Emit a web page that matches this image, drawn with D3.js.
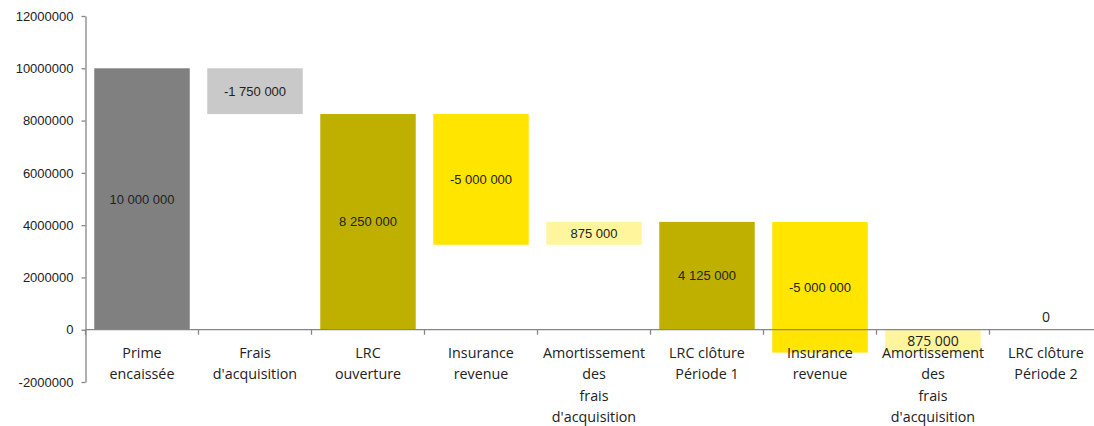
<!DOCTYPE html>
<html>
<head>
<meta charset="utf-8">
<script src="https://cdn.jsdelivr.net/npm/d3@7"></script>
<style>
  html, body { margin: 0; padding: 0; background: #fff; }
  svg { display: block; }
</style>
</head>
<body>
<svg id="chart" width="1094" height="426"></svg>
<script>
// ---- data ----
const categories = [
  ["Prime", "encaissée"],
  ["Frais", "d'acquisition"],
  ["LRC", "ouverture"],
  ["Insurance", "revenue"],
  ["Amortissement", "des", "frais", "d'acquisition"],
  ["LRC clôture", "Période 1"],
  ["Insurance", "revenue"],
  ["Amortissement", "des", "frais", "d'acquisition"],
  ["LRC clôture", "Période 2"]
];
const values = [10000000, -1750000, 8250000, -5000000, 875000, 4125000, -5000000, 875000, 0];
const kinds = ["total", "delta", "total", "delta", "delta", "total", "delta", "delta", "total"];
const barColors = ["#808080", "#c9c9c9", "#bfb000", "#ffe500", "#fff59d", "#bfb000", "#ffe500", "#fff59d", "#bfb000"];
const labelFonts = ["arial", "arial", "arial", "arial", "arial", "arial", "arial", "calibri", "calibri"];
const yTicks = [-2000000, 0, 2000000, 4000000, 6000000, 8000000, 10000000, 12000000];

// ---- build waterfall segments ----
let running = 0;
const bars = categories.map((c, i) => {
  let lo, hi;
  if (kinds[i] === "total") {
    running = values[i];
    lo = Math.min(0, values[i]); hi = Math.max(0, values[i]);
  } else {
    const start = running;
    running = start + values[i];
    lo = Math.min(start, running); hi = Math.max(start, running);
  }
  return { i, lo, hi, value: values[i], color: barColors[i], font: labelFonts[i] };
});

// ---- scales ----
const svg = d3.select("#chart");
const step = 113;
const x0 = 85.5;
const pad = 0.155;
const x = d3.scaleBand()
  .domain(d3.range(categories.length))
  .range([x0, x0 + step * categories.length])
  .paddingInner(pad).paddingOuter(pad / 2);
const y = d3.scaleLinear().domain([-2000000, 12000000]).range([382, 16]);

const axisColor = "#868686";
const fmt = v => d3.format(",")(v).replace(/,/g, " ").replace("−", "-");

// ---- bars ----
svg.append("g").selectAll("rect")
  .data(bars.filter(b => b.hi - b.lo > 0))
  .join("rect")
  .attr("x", b => x(b.i))
  .attr("width", x.bandwidth())
  .attr("y", b => y(b.hi))
  .attr("height", b => y(b.lo) - y(b.hi))
  .attr("fill", b => b.color);

// ---- y axis ----
const yAxis = svg.append("g").attr("transform", `translate(${x0},0)`)
  .call(d3.axisLeft(y).tickValues(yTicks).tickSize(4).tickSizeOuter(0).tickPadding(8)
    .tickFormat(d => d3.format("d")(d).replace("−", "-")));
yAxis.select(".domain").attr("stroke", axisColor).attr("stroke-width", 1.3);
yAxis.selectAll(".tick line").attr("stroke", axisColor).attr("stroke-width", 1.3);
yAxis.selectAll(".tick text")
  .attr("fill", "#222")
  .style("font-family", "'Liberation Sans', Arial, sans-serif")
  .style("font-size", "13px");

// ---- x axis at zero ----
const xg = svg.append("g").attr("transform", `translate(0,${y(0)})`);
xg.append("line")
  .attr("x1", x0).attr("x2", x0 + step * categories.length)
  .attr("stroke", axisColor).attr("stroke-width", 1.3);
xg.selectAll("line.tk")
  .data(d3.range(categories.length + 1))
  .join("line").attr("class", "tk")
  .attr("x1", i => x0 + i * step).attr("x2", i => x0 + i * step)
  .attr("y1", 0).attr("y2", 5)
  .attr("stroke", axisColor).attr("stroke-width", 1.3);

// category labels
const catG = svg.append("g");
categories.forEach((lines, i) => {
  const t = catG.append("text")
    .attr("x", x(i) + x.bandwidth() / 2)
    .attr("y", 358)
    .attr("text-anchor", "middle")
    .attr("fill", "#222")
    .style("font-family", "'Open Sans', sans-serif")
    .style("font-size", "14.3px");
  lines.forEach((ln, k) => {
    t.append("tspan").attr("x", x(i) + x.bandwidth() / 2).attr("dy", k === 0 ? 0 : 21.3).text(ln);
  });
});

// ---- value labels ----
svg.append("g").selectAll("text")
  .data(bars)
  .join("text")
  .attr("x", b => x(b.i) + x.bandwidth() / 2)
  .attr("y", b => b.hi - b.lo > 0 ? (y(b.hi) + y(b.lo)) / 2 : y(b.hi) - 13)
  .attr("dy", "0.35em")
  .attr("text-anchor", "middle")
  .attr("fill", "#222")
  .style("font-family", b => b.font === "arial" ? "'Liberation Sans', Arial, sans-serif" : "'Open Sans', sans-serif")
  .style("font-size", b => b.font === "arial" ? "13px" : "14px")
  .text(b => fmt(b.value));
</script>
</body>
</html>
